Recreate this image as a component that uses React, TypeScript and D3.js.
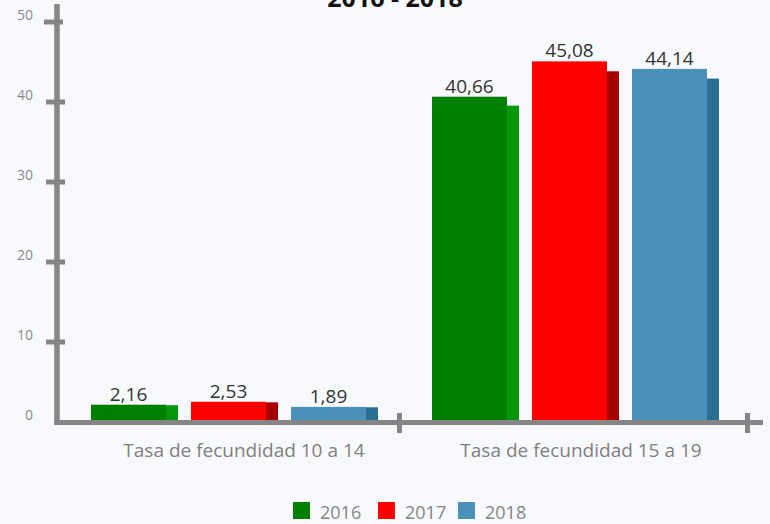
import React, { useEffect, useRef } from "react";
import * as d3 from "d3";

const categories = ["Tasa de fecundidad 10 a 14", "Tasa de fecundidad 15 a 19"];
const years = ["2016", "2017", "2018"];
const values2016 = [2.16, 40.66];
const values2017 = [2.53, 45.08];
const values2018 = [1.89, 44.14];
const yTicks = [0, 10, 20, 30, 40, 50];
const title = "2016  - 2018";

const frontColors = ["#008000", "#ff0000", "#4a91b9"];
const sideColors = ["#06960c", "#a80000", "#277091"];

const W = 770;
const H = 524;
const FONT = "'Open Sans', sans-serif";
const AXIS = "#858585";

export default function App() {
  const svgRef = useRef<SVGSVGElement>(null);

  useEffect(() => {
    document.body.style.margin = "0";
    if (!svgRef.current) return;
    const svg = d3.select(svgRef.current);
    svg.selectAll("*").remove();

    svg.append("rect").attr("width", W).attr("height", H).attr("fill", "#f8f9fc");

    const series = [values2016, values2017, values2018];

    // escalas
    const y = d3.scaleLinear().domain([0, 50]).range([422, 22]);
    const ySide = d3.scaleLinear().domain([0, 50]).range([422, 33]);
    const x0 = d3.scaleBand().domain(categories).range([50, 732]);
    const x1 = d3.scaleBand().domain(years).range([41, 316]).paddingInner(0.25);
    const sideW = 12;

    // titulo
    svg
      .append("text")
      .attr("x", 395)
      .attr("y", 7)
      .attr("text-anchor", "middle")
      .style("font-family", FONT)
      .style("font-size", "25px")
      .style("font-weight", "bold")
      .attr("fill", "#111")
      .text(title);

    // barras
    categories.forEach((c, ci) => {
      years.forEach((yr, si) => {
        const v = series[si][ci];
        const bx = (x0(c) || 0) + (x1(yr) || 0);
        const bw = x1.bandwidth();
        svg
          .append("rect")
          .attr("x", bx + bw)
          .attr("y", ySide(v))
          .attr("width", sideW)
          .attr("height", ySide(0) - ySide(v))
          .attr("fill", sideColors[si]);
        svg
          .append("rect")
          .attr("x", bx)
          .attr("y", y(v))
          .attr("width", bw)
          .attr("height", y(0) - y(v))
          .attr("fill", frontColors[si]);
        svg
          .append("text")
          .attr("x", bx + bw / 2)
          .attr("y", y(v) - 4)
          .attr("text-anchor", "middle")
          .style("font-family", FONT)
          .style("font-size", "19px")
          .attr("fill", "#333")
          .text(v.toFixed(2).replace(".", ","));
      });
    });

    // eje y
    svg
      .append("line")
      .attr("x1", 57)
      .attr("x2", 57)
      .attr("y1", 4)
      .attr("y2", 425)
      .attr("stroke", AXIS)
      .attr("stroke-width", 5.5);
    yTicks.forEach((t) => {
      if (t > 0) {
        svg
          .append("line")
          .attr("x1", t === 50 ? 44 : 46)
          .attr("x2", t === 50 ? 63 : 65)
          .attr("y1", y(t))
          .attr("y2", y(t))
          .attr("stroke", AXIS)
          .attr("stroke-width", 5);
      }
      svg
        .append("text")
        .attr("x", 33)
        .attr("y", y(t) - 2)
        .attr("text-anchor", "end")
        .style("font-family", FONT)
        .style("font-size", "14px")
        .attr("fill", "#8a8a8a")
        .text(String(t));
    });

    // eje x
    svg
      .append("line")
      .attr("x1", 54)
      .attr("x2", 763)
      .attr("y1", 422.5)
      .attr("y2", 422.5)
      .attr("stroke", AXIS)
      .attr("stroke-width", 5);
    categories.forEach((c) => {
      const right = (x0(c) || 0) + x0.bandwidth();
      const tx = right + (c === categories[0] ? 8.5 : 15.5);
      svg
        .append("line")
        .attr("x1", tx)
        .attr("x2", tx)
        .attr("y1", 413)
        .attr("y2", 433)
        .attr("stroke", AXIS)
        .attr("stroke-width", 5);
      svg
        .append("text")
        .attr("x", (x0(c) || 0) + x0.bandwidth() / 2 + (c === categories[0] ? 23.5 : 19.5))
        .attr("y", 457)
        .attr("text-anchor", "middle")
        .style("font-family", FONT)
        .style("font-size", "19px")
        .attr("fill", "#7f7f7f")
        .text(c);
    });

    // leyenda
    const legendX = [293, 378, 458];
    years.forEach((yr, i) => {
      svg
        .append("rect")
        .attr("x", legendX[i])
        .attr("y", 502)
        .attr("width", 17)
        .attr("height", 17)
        .attr("fill", frontColors[i]);
      svg
        .append("text")
        .attr("x", legendX[i] + 27)
        .attr("y", 519)
        .style("font-family", FONT)
        .style("font-size", "18px")
        .attr("fill", "#858585")
        .text(yr);
    });
  }, []);

  return <svg ref={svgRef} width={W} height={H} style={{ display: "block" }} />;
}
